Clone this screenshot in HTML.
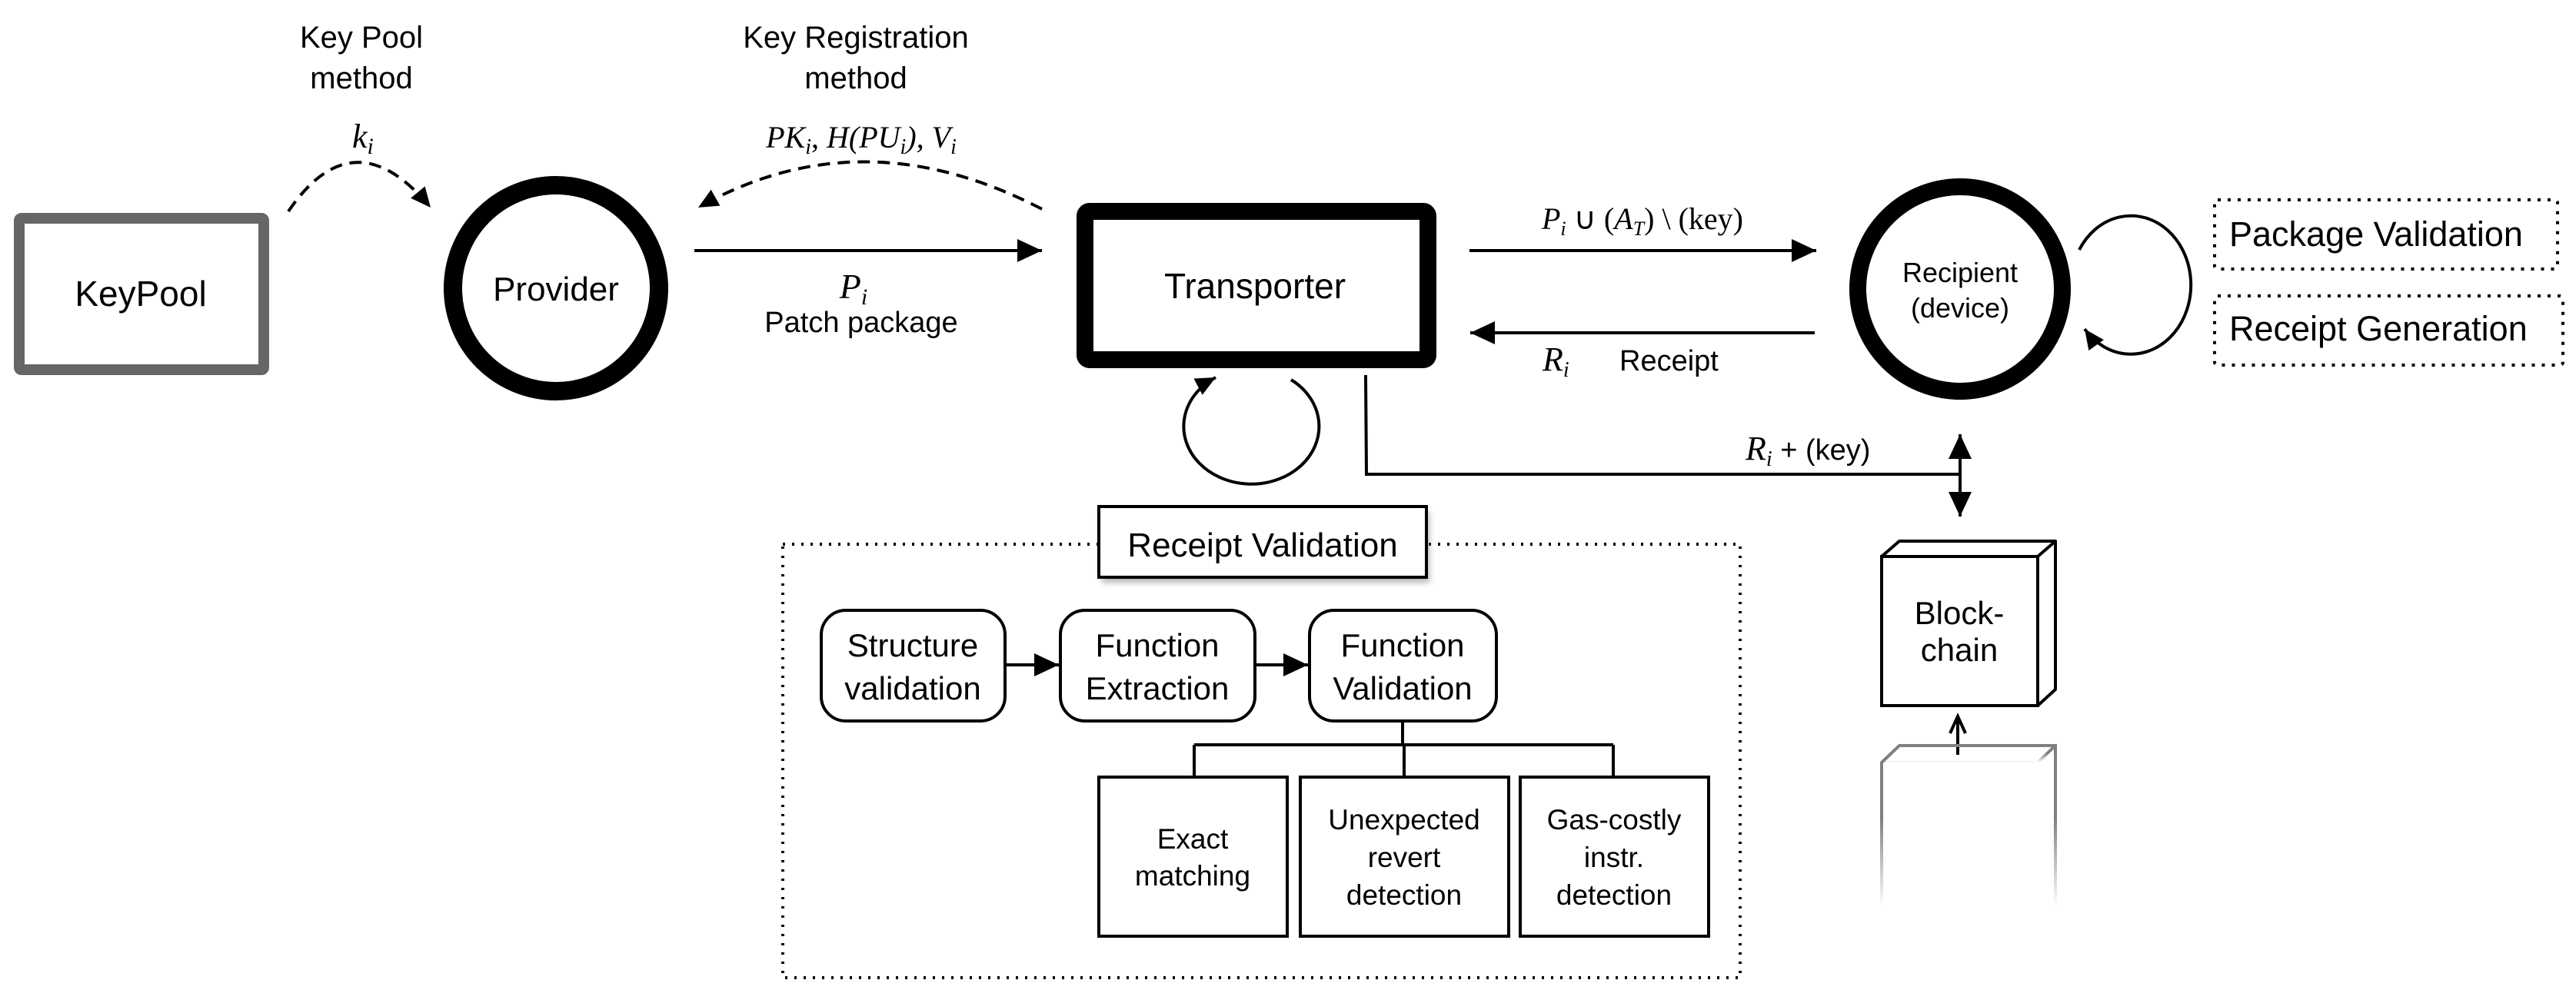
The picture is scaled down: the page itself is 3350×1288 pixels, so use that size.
<!DOCTYPE html>
<html><head><meta charset="utf-8"><style>
html,body{margin:0;padding:0;background:#fff;}
svg{display:block;}
.s{font-family:"Liberation Sans",sans-serif;fill:#000;}
.m{font-family:"Liberation Serif",serif;font-style:italic;fill:#000;}
.mr{font-family:"Liberation Serif",serif;fill:#000;}
</style></head><body>
<svg width="3350" height="1288" viewBox="0 0 3350 1288" xmlns="http://www.w3.org/2000/svg">
<defs>
<marker id="big" viewBox="0 0 10 10" refX="10" refY="5" markerWidth="32" markerHeight="30" orient="auto" markerUnits="userSpaceOnUse" preserveAspectRatio="none">
<path d="M0,0 L10,5 L0,10 z" fill="#000"/></marker>
<marker id="big2" viewBox="0 0 10 10" refX="10" refY="5" markerWidth="32" markerHeight="30" orient="auto-start-reverse" markerUnits="userSpaceOnUse" preserveAspectRatio="none">
<path d="M0,0 L10,5 L0,10 z" fill="#000"/></marker>
<marker id="sm" viewBox="0 0 10 10" refX="10" refY="5" markerWidth="26" markerHeight="24" orient="auto" markerUnits="userSpaceOnUse" preserveAspectRatio="none">
<path d="M0,0 L10,5 L0,10 z" fill="#000"/></marker>
<linearGradient id="fade" x1="0" y1="0" x2="0" y2="1">
<stop offset="0" stop-color="#808080" stop-opacity="1"/>
<stop offset="0.45" stop-color="#808080" stop-opacity="1"/>
<stop offset="1" stop-color="#808080" stop-opacity="0"/>
</linearGradient>
<filter id="sh" x="-10%" y="-10%" width="120%" height="140%"><feGaussianBlur stdDeviation="4"/></filter>
</defs>

<text class="s" x="470" y="62" font-size="40" text-anchor="middle">Key Pool</text>
<text class="s" x="470" y="115" font-size="40" text-anchor="middle">method</text>
<text class="s" x="1113" y="62" font-size="40" text-anchor="middle">Key Registration</text>
<text class="s" x="1113" y="115" font-size="40" text-anchor="middle">method</text>
<text class="m" x="458" y="192" font-size="44">k<tspan font-size="30" dy="8">i</tspan></text>
<text class="m" x="1120" y="192" font-size="40" text-anchor="middle">PK<tspan font-size="28" dy="8">i</tspan><tspan dy="-8" class="mr" font-style="normal">, </tspan>H(PU<tspan font-size="28" dy="8">i</tspan><tspan dy="-8">), V</tspan><tspan font-size="28" dy="8">i</tspan></text>

<path d="M375,275 Q460,150 560,270" fill="none" stroke="#000" stroke-width="4" stroke-dasharray="16,10" marker-end="url(#sm)"/>
<path d="M1355,272 Q1120,150 908,270" fill="none" stroke="#000" stroke-width="4" stroke-dasharray="16,10" marker-end="url(#sm)"/>

<rect x="25" y="284" width="318" height="197" fill="#fff" stroke="#666" stroke-width="14" rx="3"/>
<text class="s" x="183" y="398" font-size="46" text-anchor="middle">KeyPool</text>

<circle cx="723" cy="375" r="134" fill="#fff" stroke="#000" stroke-width="24"/>
<text class="s" x="723" y="391" font-size="44" text-anchor="middle">Provider</text>

<line x1="903" y1="326" x2="1355" y2="326" stroke="#000" stroke-width="4" marker-end="url(#big)"/>
<text class="m" x="1110" y="388" font-size="46" text-anchor="middle">P<tspan font-size="30" dy="8">i</tspan></text>
<text class="s" x="1120" y="432" font-size="38" text-anchor="middle">Patch package</text>

<rect x="1411" y="275" width="446" height="193" fill="#fff" stroke="#000" stroke-width="22" rx="6"/>
<text class="s" x="1632" y="388" font-size="46" text-anchor="middle">Transporter</text>

<path d="M1679,494 A88,75 0 1,1 1581,491" fill="none" stroke="#000" stroke-width="4" marker-end="url(#sm)"/>

<line x1="1911" y1="326" x2="2362" y2="326" stroke="#000" stroke-width="4" marker-end="url(#big)"/>
<text class="m" x="2136" y="298" font-size="40" text-anchor="middle">P<tspan font-size="26" dy="8">i</tspan><tspan dy="-8" class="mr" font-style="normal"> ∪ (</tspan>A<tspan font-size="26" dy="8">T</tspan><tspan dy="-8" class="mr" font-style="normal">) \ (key)</tspan></text>
<line x1="2360" y1="433" x2="1912" y2="433" stroke="#000" stroke-width="4" marker-end="url(#big)"/>
<text class="m" x="2006" y="482" font-size="44">R<tspan font-size="28" dy="8">i</tspan></text>
<text class="s" x="2106" y="482" font-size="38">Receipt</text>

<circle cx="2549" cy="376" r="133" fill="#fff" stroke="#000" stroke-width="22"/>
<text class="s" x="2549" y="367" font-size="36" text-anchor="middle">Recipient</text>
<text class="s" x="2549" y="413" font-size="36" text-anchor="middle">(device)</text>
<path d="M2704,325 A78,90 0 1,1 2711,428" fill="none" stroke="#000" stroke-width="4" marker-end="url(#sm)"/>

<rect x="2880" y="260" width="446" height="90" fill="none" stroke="#000" stroke-width="4" stroke-dasharray="4,9" rx="4"/>
<text class="s" x="2899" y="320" font-size="45">Package Validation</text>
<rect x="2880" y="385" width="453" height="90" fill="none" stroke="#000" stroke-width="4" stroke-dasharray="4,9" rx="4"/>
<text class="s" x="2899" y="443" font-size="45">Receipt Generation</text>

<polyline points="1776,488 1777,617 2549,617" fill="none" stroke="#000" stroke-width="4"/>
<line x1="2549" y1="565" x2="2549" y2="672" stroke="#000" stroke-width="4" marker-start="url(#big2)" marker-end="url(#big)"/>
<text class="m" x="2270" y="598" font-size="44">R<tspan font-size="28" dy="8">i</tspan><tspan dy="-8" class="s" font-style="normal" font-size="38"> + (key)</tspan></text>

<path d="M2447,724 L2470,704 L2673,704 L2673,897 L2650,918" fill="#fff" stroke="#000" stroke-width="4" stroke-linejoin="round"/>
<line x1="2650" y1="724" x2="2673" y2="704" stroke="#000" stroke-width="4"/>
<rect x="2447" y="724" width="203" height="194" fill="#fff" stroke="#000" stroke-width="4"/>
<text class="s" x="2548" y="812" font-size="42" text-anchor="middle">Block-</text>
<text class="s" x="2548" y="860" font-size="42" text-anchor="middle">chain</text>
<line x1="2546" y1="982" x2="2546" y2="934" stroke="#000" stroke-width="4"/>
<polyline points="2536,954 2546,932 2556,954" fill="none" stroke="#000" stroke-width="4"/>
<g stroke="url(#fade)" stroke-width="4" fill="none">
<path d="M2447,1180 L2447,992 L2470,970 L2673,970 L2673,1180"/>
<path d="M2447,992 L2650,992 L2673,970"/>
<path d="M2650,992 L2650,1180"/>
</g>

<rect x="1018" y="708" width="1245" height="564" fill="none" stroke="#000" stroke-width="4" stroke-dasharray="3,9"/>
<rect x="1433" y="666" width="426" height="92" fill="#888" filter="url(#sh)" opacity="0.6"/>
<rect x="1429" y="659" width="426" height="92" fill="#fff" stroke="#000" stroke-width="4"/>
<text class="s" x="1642" y="724" font-size="44" text-anchor="middle">Receipt Validation</text>

<rect x="1068" y="794" width="239" height="144" rx="32" fill="#fff" stroke="#000" stroke-width="4"/>
<text class="s" x="1187" y="854" font-size="42" text-anchor="middle">Structure</text>
<text class="s" x="1187" y="910" font-size="42" text-anchor="middle">validation</text>
<rect x="1379" y="794" width="253" height="144" rx="32" fill="#fff" stroke="#000" stroke-width="4"/>
<text class="s" x="1505" y="854" font-size="42" text-anchor="middle">Function</text>
<text class="s" x="1505" y="910" font-size="42" text-anchor="middle">Extraction</text>
<rect x="1703" y="794" width="243" height="144" rx="32" fill="#fff" stroke="#000" stroke-width="4"/>
<text class="s" x="1824" y="854" font-size="42" text-anchor="middle">Function</text>
<text class="s" x="1824" y="910" font-size="42" text-anchor="middle">Validation</text>
<line x1="1307" y1="865" x2="1377" y2="865" stroke="#000" stroke-width="4" marker-end="url(#big)"/>
<line x1="1632" y1="865" x2="1701" y2="865" stroke="#000" stroke-width="4" marker-end="url(#big)"/>

<polyline points="1824,938 1824,969" fill="none" stroke="#000" stroke-width="4"/>
<line x1="1553" y1="969" x2="2098" y2="969" stroke="#000" stroke-width="4"/>
<line x1="1553" y1="969" x2="1553" y2="1011" stroke="#000" stroke-width="4"/>
<line x1="1826" y1="969" x2="1826" y2="1011" stroke="#000" stroke-width="4"/>
<line x1="2098" y1="969" x2="2098" y2="1011" stroke="#000" stroke-width="4"/>

<rect x="1429" y="1011" width="245" height="207" fill="#fff" stroke="#000" stroke-width="4"/>
<text class="s" x="1551" y="1104" font-size="37" text-anchor="middle">Exact</text>
<text class="s" x="1551" y="1152" font-size="37" text-anchor="middle">matching</text>
<rect x="1691" y="1011" width="271" height="207" fill="#fff" stroke="#000" stroke-width="4"/>
<text class="s" x="1826" y="1079" font-size="37" text-anchor="middle">Unexpected</text>
<text class="s" x="1826" y="1128" font-size="37" text-anchor="middle">revert</text>
<text class="s" x="1826" y="1177" font-size="37" text-anchor="middle">detection</text>
<rect x="1977" y="1011" width="245" height="207" fill="#fff" stroke="#000" stroke-width="4"/>
<text class="s" x="2099" y="1079" font-size="37" text-anchor="middle">Gas-costly</text>
<text class="s" x="2099" y="1128" font-size="37" text-anchor="middle">instr.</text>
<text class="s" x="2099" y="1177" font-size="37" text-anchor="middle">detection</text>
</svg>
</body></html>
